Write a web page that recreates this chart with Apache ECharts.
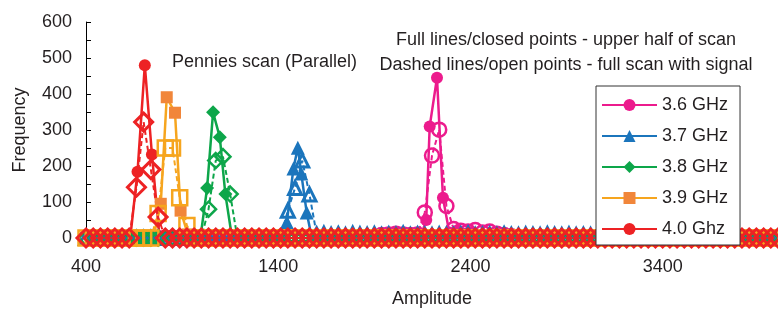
<!DOCTYPE html>
<html>
<head>
<meta charset="utf-8">
<script src="https://cdn.jsdelivr.net/npm/echarts@6/dist/echarts.min.js"></script>
<style>
html, body { margin: 0; padding: 0; background: #fff; }
#chart { width: 778px; height: 313px; }
</style>
</head>
<body>
<div id="chart"></div>
<script>
// amplitude bins of the full scan (dashed lines / open points)
var amplitudeBins = [400, 437.5, 475, 512.5, 550, 587.5, 625, 662.5, 700, 737.5,
  775, 812.5, 850, 887.5, 925, 962.5, 1000, 1037.5, 1075, 1112.5,
  1150, 1187.5, 1225, 1262.5, 1300, 1337.5, 1375, 1412.5, 1450, 1487.5,
  1525, 1562.5, 1600, 1637.5, 1675, 1712.5, 1750, 1787.5, 1825, 1862.5,
  1900, 1937.5, 1975, 2012.5, 2050, 2087.5, 2125, 2162.5, 2200, 2237.5,
  2275, 2312.5, 2350, 2387.5, 2425, 2462.5, 2500, 2537.5, 2575, 2612.5,
  2650, 2687.5, 2725, 2762.5, 2800, 2837.5, 2875, 2912.5, 2950, 2987.5,
  3025, 3062.5, 3100, 3137.5, 3175, 3212.5, 3250, 3287.5, 3325, 3362.5,
  3400, 3437.5, 3475, 3512.5, 3550, 3587.5, 3625, 3662.5, 3700, 3737.5,
  3775, 3812.5, 3850, 3887.5, 3925, 3962.5, 4000];

var full36 = [0,0,0,0,0,0,0,0,0,0, 0,0,0,0,0,0,0,0,0,0, 0,0,0,0,0,0,0,0,0,0,
  0,0,0,0,0,0,0,0,0,0, 0,8,10,12,10,8,10,71,229,301, 89,25,20,18,22,15,18,12,8,5,
  0,0,0,0,0,0,0,0,0,0, 0,0,0,0,0,0,0,0,0,0, 0,0,0,0,0,0,0,0,0,0, 0,0,0,0,0,0,0];
var full37 = [0,0,0,0,0,0,0,0,0,0, 0,0,0,0,0,0,0,0,0,0, 0,0,0,0,0,0,0,0,76,139,
  215,121,10,12,9,11,8,12,10,9, 11,8,10,9,12,8,10,9,8,10, 9,8,10,12,8,9,10,8,11,9,
  8,10,9,8,11,9,8,10,8,9, 8,6,0,0,0,0,0,0,0,0, 0,0,0,0,0,0,0,0,0,0, 0,0,0,0,0,0,0];
var full38 = [0,0,0,0,0,0,0,0,0,0, 0,0,0,0,0,0,0,80,215,226, 122,0,0,0,0,0,0,0,0,0,
  0,0,0,0,0,0,0,0,0,0, 0,0,0,0,0,0,0,0,0,0, 0,0,0,0,0,0,0,0,0,0,
  0,0,0,0,0,0,0,0,0,0, 0,0,0,0,0,0,0,0,0,0, 0,0,0,0,0,0,0,0,0,0, 0,0,0,0,0,0,0];
var full39 = [0,0,0,0,0,0,0,0,0,0, 68,250,250,112,35,0,0,0,0,0, 0,0,0,0,0,0,0,0,0,0,
  0,0,0,0,0,0,0,0,0,0, 0,0,0,0,0,0,0,0,0,0, 0,0,0,0,0,0,0,0,0,0,
  0,0,0,0,0,0,0,0,0,0, 0,0,0,0,0,0,0,0,0,0, 0,0,0,0,0,0,0,0,0,0, 0,0,0,0,0,0,0];
var full40 = [0,0,0,0,0,0,0,141,322,190, 58,0,0,0,0,0,0,0,0,0, 0,0,0,0,0,0,0,0,0,0,
  0,0,0,0,0,0,0,0,0,0, 0,0,0,0,0,0,0,0,0,0, 0,0,0,0,0,0,0,0,0,0,
  0,0,0,0,0,0,0,0,0,0, 0,0,0,0,0,0,0,0,0,0, 0,0,0,0,0,0,0,0,0,0, 0,0,0,0,0,0,0];

// upper half of scan (full lines / closed points)
var amp36 = [2140, 2170, 2188, 2226, 2257, 2290, 2330, 2370, 2410, 2450, 2500, 2560];
var half36 = [0, 50, 310, 445, 112, 15, 20, 12, 15, 8, 5, 0];
var amp37 = [1420, 1445, 1479, 1502, 1520, 1548, 1575];
var half37 = [0, 44, 193, 251, 179, 71, 0];
var amp38 = [995, 1030, 1061, 1096, 1125, 1160];
var half38 = [0, 139, 349, 280, 122, 0];
var amp39 = [750, 789, 820, 863, 892, 930, 965];
var half39 = [0, 95, 391, 348, 76, 10, 0];
var amp40 = [630, 668, 706, 743, 783];
var half40 = [0, 184, 480, 232, 0];

var names = ['3.6 GHz', '3.7 GHz', '3.8 GHz', '3.9 GHz', '4.0 Ghz'];
var xTicks = [400, 1400, 2400, 3400];

var FONT = 'Liberation Sans, Arial, sans-serif';
var TXT = '#231f20';

function zip(a, b) {
  return a.map(function (v, i) { return [v, b[i]]; });
}

function solid(name, amp, vals, lineColor, dotColor, symbol, size) {
  return {
    name: name, type: 'line', data: zip(amp, vals),
    symbol: symbol, symbolSize: size,
    itemStyle: { color: dotColor },
    lineStyle: { color: lineColor, width: 2.5 },
    emphasis: { disabled: true }
  };
}

function dashed(name, vals, color, symbol, size, bw) {
  return {
    name: name + ' full', type: 'line', data: zip(amplitudeBins, vals),
    symbol: symbol, symbolSize: size,
    itemStyle: { color: 'rgba(0,0,0,0)', borderColor: color, borderWidth: bw },
    lineStyle: { color: color, width: 2, type: [5, 3] },
    emphasis: { disabled: true }
  };
}

var option = {
  animation: false,
  grid: { left: 86, right: 0, top: 22, bottom: 68 },
  xAxis: {
    type: 'value', min: 400, max: 4000,
    name: 'Amplitude', nameLocation: 'middle', nameGap: 52,
    nameTextStyle: { fontSize: 18, fontFamily: FONT, color: TXT },
    axisLine: { lineStyle: { color: '#000', width: 1 } },
    axisTick: { show: false },
    axisLabel: {
      customValues: xTicks, margin: 20, fontSize: 18, fontFamily: FONT, color: TXT,
      formatter: function (v) { return String(v); }
    },
    splitLine: { show: false }
  },
  yAxis: {
    type: 'value', min: 0, max: 600, interval: 50,
    name: 'Frequency', nameLocation: 'middle', nameGap: 57,
    nameTextStyle: { fontSize: 18, fontFamily: FONT, color: TXT },
    axisLine: { show: true, lineStyle: { color: '#000', width: 1 } },
    axisTick: { show: true, inside: true, length: 5, lineStyle: { color: '#000' } },
    axisLabel: {
      margin: 14, fontSize: 18, fontFamily: FONT, color: TXT,
      formatter: function (v) { return v % 100 === 0 ? String(v) : ''; }
    },
    splitLine: { show: false }
  },
  legend: {
    data: names, orient: 'vertical', left: 596, top: 86,
    itemWidth: 55, itemHeight: 15, itemGap: 13,
    padding: [10, 12, 7, 5],
    backgroundColor: '#fff', borderColor: '#333', borderWidth: 1,
    textStyle: { fontSize: 18, fontFamily: FONT, color: TXT },
    z: 20
  },
  graphic: [
    { type: 'text', x: 172, y: 62, z: 10,
      style: { text: 'Pennies scan (Parallel)', font: '18px ' + FONT, fill: TXT, verticalAlign: 'middle' } },
    { type: 'text', x: 566, y: 40, z: 10,
      style: { text: 'Full lines/closed points - upper half of scan', font: '18px ' + FONT, fill: TXT, align: 'center', verticalAlign: 'middle' } },
    { type: 'text', x: 566, y: 65, z: 10,
      style: { text: 'Dashed lines/open points - full scan with signal', font: '18px ' + FONT, fill: TXT, align: 'center', verticalAlign: 'middle' } }
  ],
  series: [
    solid(names[0], amp36, half36, '#ec1b8d', '#ec1b8d', 'circle', 12),
    solid(names[1], amp37, half37, '#1b75bc', '#1b75bc', 'triangle', 14),
    solid(names[2], amp38, half38, '#0da64a', '#0da64a', 'diamond', 14),
    solid(names[3], amp39, half39, '#f6a51e', '#f1863a', 'rect', 12),
    solid(names[4], amp40, half40, '#ed2224', '#ed2224', 'circle', 12),
    dashed(names[0], full36, '#ec1b8d', 'circle', 14, 2.5),
    dashed(names[1], full37, '#1b75bc', 'triangle', 13, 3),
    dashed(names[2], full38, '#0da64a', 'diamond', 15, 2.5),
    dashed(names[3], full39, '#f6a51e', 'rect', 15, 2.5),
    dashed(names[4], full40, '#ed2224', 'diamond', 18, 3)
  ]
};

var myChart = echarts.init(document.getElementById('chart'));
myChart.setOption(option);
</script>
</body>
</html>
